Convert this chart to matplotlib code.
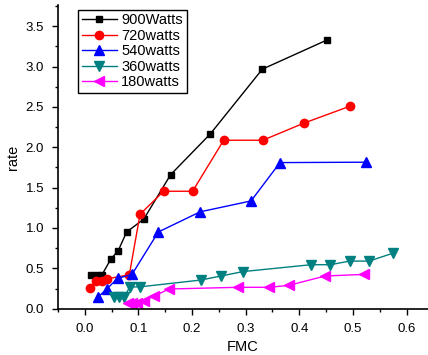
import numpy as np
import matplotlib.pyplot as plt
from matplotlib.ticker import MultipleLocator

plt.rcParams['font.family'] = ['Liberation Sans', 'DejaVu Sans']

# FMC vs drying rate at different microwave powers
fmc_900 = [0.012, 0.023, 0.032, 0.049, 0.062, 0.078, 0.110, 0.160, 0.234, 0.331, 0.452]
rate_900 = [0.42, 0.42, 0.42, 0.62, 0.715, 0.95, 1.11, 1.66, 2.165, 2.967, 3.33]

fmc_720 = [0.010, 0.021, 0.032, 0.041, 0.083, 0.103, 0.147, 0.201, 0.259, 0.332, 0.409, 0.495]
rate_720 = [0.26, 0.34, 0.34, 0.37, 0.42, 1.17, 1.455, 1.455, 2.087, 2.087, 2.30, 2.51]

fmc_540 = [0.024, 0.041, 0.061, 0.088, 0.137, 0.215, 0.310, 0.364, 0.524]
rate_540 = [0.14, 0.245, 0.375, 0.425, 0.95, 1.20, 1.335, 1.81, 1.815]

fmc_360 = [0.054, 0.063, 0.073, 0.084, 0.102, 0.216, 0.254, 0.295, 0.422, 0.458, 0.494, 0.530, 0.574]
rate_360 = [0.15, 0.15, 0.14, 0.27, 0.27, 0.355, 0.405, 0.46, 0.545, 0.545, 0.59, 0.59, 0.686]

fmc_180 = [0.080, 0.088, 0.098, 0.111, 0.129, 0.157, 0.285, 0.344, 0.381, 0.448, 0.520]
rate_180 = [0.075, 0.075, 0.075, 0.10, 0.155, 0.244, 0.265, 0.265, 0.29, 0.405, 0.425]

fig = plt.figure(figsize=(4.28, 3.55), dpi=100)
ax = fig.add_axes([0.1355, 0.1304, 0.8645, 0.855])

ax.plot(fmc_900, rate_900, color='black', marker='s', ms=5, lw=1, label='900Watts')
ax.plot(fmc_720, rate_720, color='red', marker='o', ms=6, lw=1, label='720watts')
ax.plot(fmc_540, rate_540, color='blue', marker='^', ms=7, lw=1, label='540watts')
ax.plot(fmc_360, rate_360, color='#008080', marker='v', ms=7, lw=1, label='360watts')
ax.plot(fmc_180, rate_180, color='magenta', marker='<', ms=7, lw=1, label='180watts')

ax.set_xlim(-0.05, 0.64)
ax.set_ylim(0, 3.76)
ax.xaxis.set_major_locator(MultipleLocator(0.1))
ax.xaxis.set_minor_locator(MultipleLocator(0.05))
ax.yaxis.set_major_locator(MultipleLocator(0.5))
ax.yaxis.set_minor_locator(MultipleLocator(0.25))
ax.set_xticks(np.arange(0, 0.61, 0.1))
ax.set_xticklabels(['0.0', '0.1', '0.2', '0.3', '0.4', '0.5', '0.6'])
ax.set_yticklabels([f'{v:.1f}' for v in ax.get_yticks()])

for s in ['top', 'right']:
    ax.spines[s].set_visible(False)
ax.spines['left'].set_linewidth(1.2)
ax.spines['bottom'].set_linewidth(1.2)
ax.tick_params(which='major', direction='out', length=4, width=1, labelsize=9.5, pad=6)
ax.tick_params(which='minor', direction='out', length=2.5, width=1)

ax.set_xlabel('FMC', fontsize=10.5, labelpad=4)
ax.set_ylabel('rate', fontsize=10.5, labelpad=4)

leg = ax.legend(loc='upper left', bbox_to_anchor=(0.055, 0.985), fontsize=10.5,
                fancybox=False, edgecolor='black', framealpha=1,
                handlelength=2.4, handletextpad=0.3, borderpad=0.25,
                labelspacing=0.1, borderaxespad=0)
leg.get_frame().set_linewidth(1)

fig.savefig('out.png', dpi=100)
